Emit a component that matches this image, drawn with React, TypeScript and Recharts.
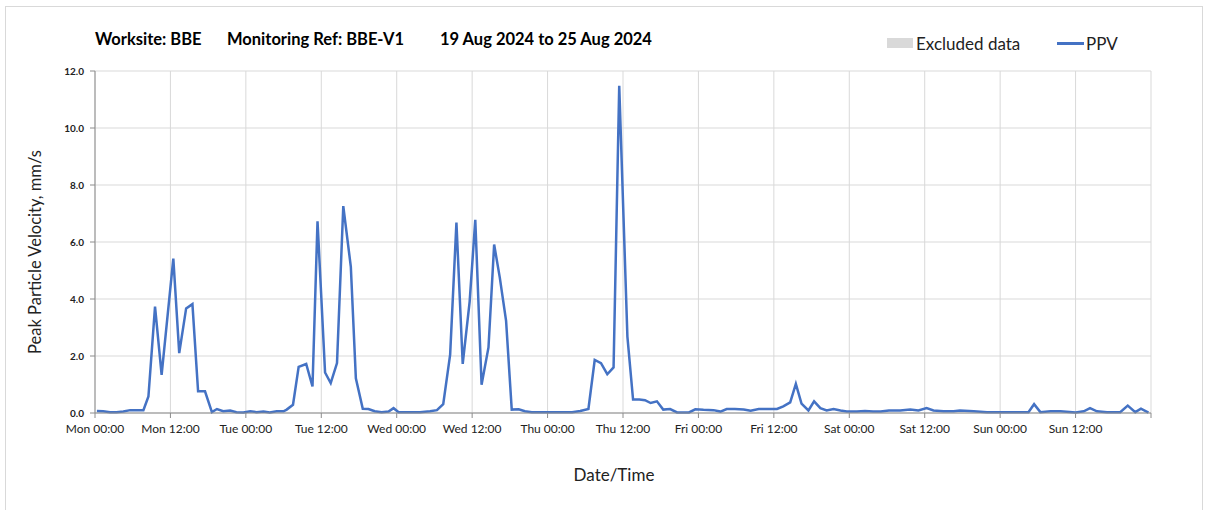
import React from "react"
import { LineChart, Line, XAxis, YAxis, CartesianGrid } from "recharts"

// hours since Mon 00:00 (19 Aug 2024)
const hours = [
  0.3, 1.3, 2.4, 3.4, 4.5, 5.6, 6.6, 7.7, 8.5, 9.55, 10.6, 12.46, 13.4, 14.5, 15.5, 16.4, 17.5, 18.6, 19.4, 20.4,
  21.5, 22.5, 23.6, 24.7, 25.7, 26.8, 27.8, 28.9, 30.0, 30.5, 31.5, 32.4, 33.6, 34.6, 35.4, 36.6, 37.5, 38.5, 39.5,
  40.7, 41.5, 42.6, 43.5, 44.5, 45.6, 46.7, 47.5, 48.3, 50.0, 51.7, 53.3, 54.4, 55.4, 56.5, 57.5, 58.5, 59.6, 60.5,
  61.5, 62.6, 63.5, 64.4, 65.4, 66.3, 67.4, 68.4, 69.5, 72.4, 75.9, 77.2, 78.5, 79.5, 80.5, 81.5, 82.5, 83.4, 84.7,
  85.6, 86.6, 87.5, 88.4, 89.4, 90.4, 91.5, 92.6, 94.5, 95.5, 96.8, 98.4, 99.5, 100.5, 101.8, 103.2, 104.3, 105.6,
  106.9, 108.5, 109.5, 110.6, 111.5, 112.4, 113.5, 114.4, 115.4, 116.4, 117.5, 118.6, 119.6, 121.2, 122.5, 123.8,
  125.0, 126.3, 128.1, 129.7, 131.0, 132.3, 133.4, 135.0, 136.6, 137.6, 139.8, 141.9, 144.0, 146.1, 148.5, 149.4,
  150.4, 152.0, 153.6, 156.0, 157.3, 158.3, 159.4, 161.0, 163.1, 164.3, 165.5, 166.4, 167.6,
]

// PPV, mm/s
const ppv = [
  0.07, 0.06, 0.03, 0.03, 0.05, 0.1, 0.1, 0.1, 0.58, 3.73, 1.34, 5.42, 2.1, 3.67, 3.82, 0.76, 0.76, 0.03, 0.14, 0.06,
  0.09, 0.03, 0.02, 0.06, 0.03, 0.05, 0.02, 0.06, 0.06, 0.12, 0.29, 1.62, 1.72, 0.93, 6.73, 1.42, 1.05, 1.75, 7.26,
  5.13, 1.22, 0.15, 0.14, 0.06, 0.03, 0.05, 0.17, 0.03, 0.03, 0.03, 0.06, 0.1, 0.31, 2.05, 6.68, 1.72, 3.9, 6.78,
  0.99, 2.3, 5.91, 4.75, 3.23, 0.12, 0.13, 0.06, 0.03, 0.03, 0.03, 0.07, 0.14, 1.86, 1.75, 1.36, 1.6, 11.48, 2.68,
  0.47, 0.47, 0.45, 0.35, 0.41, 0.12, 0.14, 0.02, 0.02, 0.13, 0.11, 0.1, 0.05, 0.14, 0.14, 0.12, 0.08, 0.14,
  0.14, 0.14, 0.23, 0.37, 1.02, 0.33, 0.09, 0.41, 0.17, 0.09, 0.14, 0.09, 0.05, 0.05, 0.07, 0.05,
  0.05, 0.09, 0.09, 0.12, 0.09, 0.17, 0.09, 0.06, 0.06, 0.09, 0.06, 0.03, 0.03, 0.03, 0.03, 0.31,
  0.03, 0.06, 0.06, 0.02, 0.06, 0.17, 0.06, 0.03, 0.03, 0.26, 0.03, 0.15, 0.01,
]

const xTicks = [0, 12, 24, 36, 48, 60, 72, 84, 96, 108, 120, 132, 144, 156, 168]
const xTickLabels = [
  "Mon 00:00", "Mon 12:00", "Tue 00:00", "Tue 12:00", "Wed 00:00", "Wed 12:00", "Thu 00:00",
  "Thu 12:00", "Fri 00:00", "Fri 12:00", "Sat 00:00", "Sat 12:00", "Sun 00:00", "Sun 12:00", "",
]
const yTicks = [0, 2, 4, 6, 8, 10, 12]

const data = hours.map((t, i) => ({ t, ppv: ppv[i] }))

const font = "Lato, 'Open Sans', sans-serif"
const blue = "#4472C4"

const titleStyle: React.CSSProperties = { position: "absolute", top: 29, fontSize: 16.5, fontWeight: 700, whiteSpace: "pre" }

export default function App() {
  return (
    <div style={{ position: "absolute", left: 0, top: 0, width: 1208, height: 510, background: "#fff", fontFamily: font, color: "#000", overflow: "hidden" }}>
      <div style={{ position: "absolute", left: 5, top: 6, width: 1196, height: 520, border: "1px solid #d9d9d9" }} />

      <div style={{ ...titleStyle, left: 95 }}>Worksite: BBE</div>
      <div style={{ ...titleStyle, left: 227 }}>Monitoring Ref: BBE-V1</div>
      <div style={{ ...titleStyle, left: 440 }}>19 Aug 2024 to 25 Aug 2024</div>

      <div style={{ position: "absolute", left: 887, top: 38, width: 26, height: 10, background: "#d9d9d9" }} />
      <div style={{ position: "absolute", left: 916, top: 33, fontSize: 17, color: "#222" }}>Excluded data</div>
      <div style={{ position: "absolute", left: 1057, top: 42, width: 27, height: 3, background: blue }} />
      <div style={{ position: "absolute", left: 1086, top: 33, fontSize: 17, color: "#222" }}>PPV</div>

      <div style={{ position: "absolute", left: 35, top: 252, width: 0, height: 0 }}>
        <div style={{ position: "absolute", transform: "translate(-50%, -50%) rotate(-90deg)", fontSize: 16.5, whiteSpace: "nowrap", color: "#222" }}>
          Peak Particle Velocity, mm/s
        </div>
      </div>
      <div style={{ position: "absolute", left: 614, top: 474, width: 0, height: 0 }}>
        <div style={{ position: "absolute", transform: "translate(-50%, -50%)", fontSize: 17, whiteSpace: "nowrap", color: "#222" }}>
          Date/Time
        </div>
      </div>

      <div style={{ position: "absolute", left: 0, top: 0 }}>
        <LineChart width={1208} height={510} data={data} margin={{ top: 71, right: 57, left: 35, bottom: 67 }}>
          <CartesianGrid stroke="#d9d9d9" />
          <XAxis
            dataKey="t"
            type="number"
            domain={[0, 168]}
            ticks={xTicks}
            tickFormatter={(v: number) => xTickLabels[xTicks.indexOf(v)]}
            stroke="#8c8c8c"
            tickSize={5}
            tickMargin={6}
            height={30}
            interval={0}
            tick={{ fill: "#222", fontSize: 12, fontFamily: font }}
          />
          <YAxis
            type="number"
            domain={[0, 12]}
            ticks={yTicks}
            tickFormatter={(v: number) => v.toFixed(1)}
            stroke="#8c8c8c"
            tickSize={5}
            tickMargin={6}
            width={60}
            tick={{ fill: "#222", fontSize: 10, fontFamily: font, fontWeight: 700 }}
          />
          <Line type="linear" dataKey="ppv" stroke={blue} strokeWidth={2.5} dot={false} isAnimationActive={false} />
        </LineChart>
      </div>
    </div>
  )
}
